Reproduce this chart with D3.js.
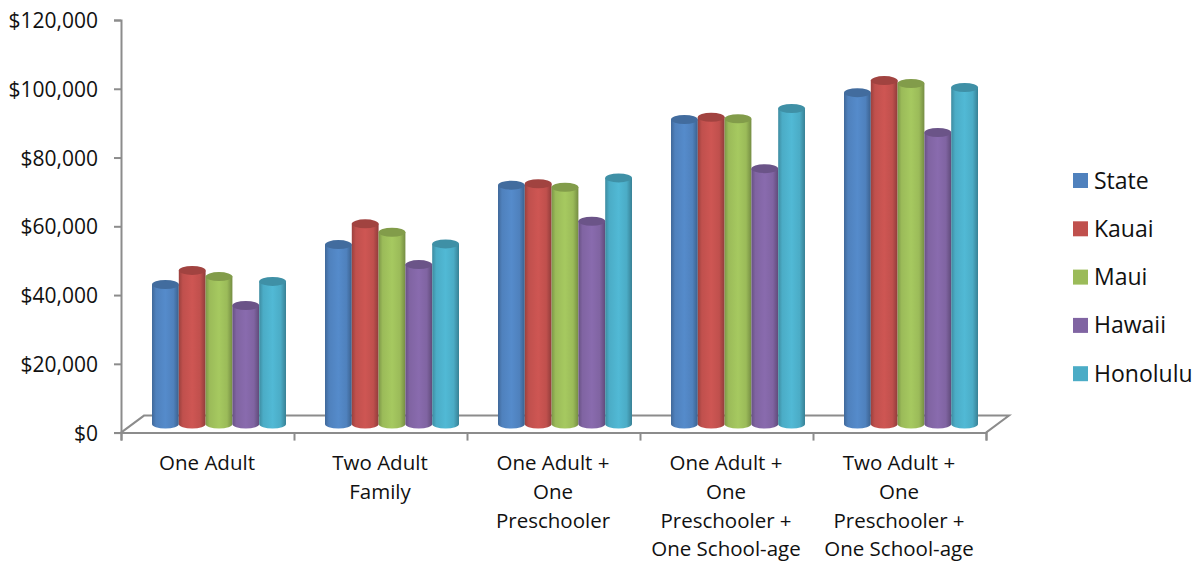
<!DOCTYPE html>
<html>
<head>
<meta charset="utf-8">
<title>Chart</title>
<script src="https://cdnjs.cloudflare.com/ajax/libs/d3/7.8.5/d3.min.js"></script>
<style>
	html, body { margin: 0; padding: 0; background: #fff; }
	svg { display: block; }
	text { font-family: "Open Sans", Lato, sans-serif; fill: #111; }
</style>
</head>
<body>
<script>
var categories = [
	["One Adult"],
	["Two Adult", "Family"],
	["One Adult +", "One", "Preschooler"],
	["One Adult +", "One", "Preschooler +", "One School-age"],
	["Two Adult +", "One", "Preschooler +", "One School-age"]
];
var seriesNames = ["State", "Kauai", "Maui", "Hawaii", "Honolulu"];
var seriesColors = ["#4f81bd", "#c0504d", "#9bbb59", "#8064a2", "#4bacc6"];

var state = [40600, 52200, 69500, 88600, 96400];
var kauai = [44700, 58250, 69900, 89250, 99900];
var maui = [42900, 55800, 68900, 88800, 99050];
var hawaii = [34500, 46400, 59000, 74300, 84800];
var honolulu = [41500, 52400, 71600, 91800, 97900];
var seriesValues = [state, kauai, maui, hawaii, honolulu];

var yTicks = [0, 20000, 40000, 60000, 80000, 100000, 120000];

var width = 1199, height = 563;
var left = 121, right = 986, top0 = 20, bottom = 432.6;
var depthX = 23, depthY = 17;
var axisColor = "#8c8c8c";

var svg = d3.select("body").append("svg")
	.attr("width", width)
	.attr("height", height);

var y = d3.scaleLinear().domain([0, 120000]).range([bottom, top0]);
var x0 = d3.scaleBand().domain(d3.range(categories.length)).range([left, right]);
var x1 = d3.scaleBand().domain(d3.range(seriesNames.length)).range([31, 165]);

// horizontal shading of the cylinders
var defs = svg.append("defs");
seriesColors.forEach(function (c, i) {
	var g = defs.append("linearGradient").attr("id", "cyl" + i);
	var base = d3.color(c);
	g.append("stop").attr("offset", "0%").attr("stop-color", base.darker(0.6));
	g.append("stop").attr("offset", "15%").attr("stop-color", base);
	g.append("stop").attr("offset", "50%").attr("stop-color", base.brighter(0.2));
	g.append("stop").attr("offset", "80%").attr("stop-color", base);
	g.append("stop").attr("offset", "100%").attr("stop-color", base.darker(0.8));
});

// floor of the 3d plot
var floor = svg.append("g")
	.attr("fill", "none")
	.attr("stroke", axisColor)
	.attr("stroke-width", 2);
floor.append("path")
	.attr("d", d3.line()([
		[left, bottom],
		[left + depthX, bottom - depthY],
		[right + depthX, bottom - depthY],
		[right, bottom]
	]));

// value axis
var yAxis = svg.append("g")
	.attr("transform", "translate(" + left + ",0)")
	.call(d3.axisLeft(y).tickValues(yTicks).tickSize(7).tickPadding(16)
		.tickFormat(function (d) { return "$" + d3.format(",")(d); }));
yAxis.select(".domain").attr("stroke", axisColor).attr("stroke-width", 2);
yAxis.selectAll(".tick line").attr("stroke", axisColor).attr("stroke-width", 2);
yAxis.selectAll("text")
	.style("font-size", "21px")
	.attr("dy", "0.36em");

// category axis
var xAxis = svg.append("g")
	.attr("transform", "translate(0," + bottom + ")")
	.call(d3.axisBottom(d3.scaleLinear().domain([0, categories.length]).range([left, right]))
		.ticks(categories.length).tickSize(8).tickFormat(""));
xAxis.select(".domain").attr("stroke", axisColor).attr("stroke-width", 2);
xAxis.selectAll(".tick line").attr("stroke", axisColor).attr("stroke-width", 2);

var labels = svg.append("g").selectAll("text")
	.data(categories)
	.enter().append("text")
	.attr("text-anchor", "middle")
	.style("font-size", "20.5px")
	.attr("transform", function (d, i) { return "translate(" + (x0(i) + x0.bandwidth() / 2 - 0.5) + ",470)"; });
labels.selectAll("tspan")
	.data(function (d) { return d; })
	.enter().append("tspan")
	.attr("x", 0)
	.attr("y", function (d, i) { return i * 28.8; })
	.text(function (d) { return d; });

// bars
var baseY = y(0) - depthY / 2;
var ry = 4.5;
var rx = x1.bandwidth() / 2;
var groups = svg.append("g").selectAll("g")
	.data(categories)
	.enter().append("g")
	.attr("transform", function (d, i) { return "translate(" + x0(i) + ",0)"; });

var bars = groups.selectAll("g")
	.data(function (d, i) {
		return seriesValues.map(function (s, j) { return { series: j, value: s[i] }; });
	})
	.enter().append("g");

bars.append("path")
	.attr("fill", function (d) { return "url(#cyl" + d.series + ")"; })
	.attr("d", function (d) {
		var xl = x1(d.series), xr = xl + x1.bandwidth();
		var yt = y(d.value) - depthY / 2;
		return "M" + xl + "," + yt + "L" + xl + "," + baseY +
			"A" + rx + "," + ry + " 0 0 0 " + xr + "," + baseY +
			"L" + xr + "," + yt + "Z";
	});
bars.append("ellipse")
	.attr("cx", function (d) { return x1(d.series) + rx; })
	.attr("cy", function (d) { return y(d.value) - depthY / 2; })
	.attr("rx", rx)
	.attr("ry", ry)
	.attr("fill", function (d) { return d3.color(seriesColors[d.series]).darker(0.5); });

// legend
var legend = svg.append("g").selectAll("g")
	.data(seriesNames)
	.enter().append("g")
	.attr("transform", function (d, i) { return "translate(1073," + (173 + i * 48.3) + ")"; });
legend.append("rect")
	.attr("width", 15)
	.attr("height", 15)
	.attr("fill", function (d, i) { return seriesColors[i]; });
legend.append("text")
	.attr("x", 21)
	.attr("y", 15.5)
	.style("font-size", "23px")
	.text(function (d) { return d; });
</script>
</body>
</html>
